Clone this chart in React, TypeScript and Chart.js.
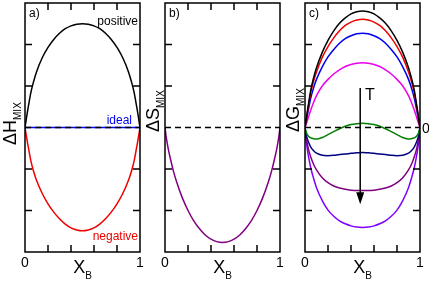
import React, { useEffect, useRef } from "react";
import { Chart, registerables } from "chart.js";

Chart.register(...registerables);

// ---------- data ----------
const XB = [0, 0.01, 0.02, 0.03, 0.05, 0.075, 0.1, 0.15, 0.2, 0.25, 0.3, 0.35, 0.4, 0.45, 0.5, 0.55, 0.6, 0.65, 0.7, 0.75, 0.8, 0.85, 0.9, 0.925, 0.95, 0.97, 0.98, 0.99, 1];
const LINE_X = [0, 1];
const ZERO_Y = [0, 0];

// panel a) enthalpy of mixing
const H_POSITIVE = [0, 0.18, 0.36, 0.52, 0.83, 1.11, 1.34, 1.68, 1.93, 2.12, 2.27, 2.38, 2.45, 2.49, 2.50, 2.49, 2.45, 2.38, 2.27, 2.12, 1.93, 1.68, 1.34, 1.11, 0.83, 0.52, 0.36, 0.18, 0];
const H_NEGATIVE = [0, -0.17, -0.34, -0.49, -0.79, -1.06, -1.27, -1.59, -1.84, -2.04, -2.20, -2.33, -2.42, -2.47, -2.49, -2.47, -2.42, -2.33, -2.20, -2.04, -1.84, -1.59, -1.27, -1.06, -0.79, -0.49, -0.34, -0.17, 0];
const H_IDEAL = [0, 0];

// panel b) entropy of mixing
const S_MIX = [0, -0.22, -0.39, -0.54, -0.79, -1.07, -1.30, -1.69, -2.00, -2.25, -2.44, -2.59, -2.69, -2.75, -2.77, -2.75, -2.69, -2.59, -2.44, -2.25, -2.00, -1.69, -1.30, -1.07, -0.79, -0.54, -0.39, -0.22, 0];

// panel c) Gibbs energy of mixing, increasing T
const G_T1 = [0, 0.19, 0.38, 0.56, 0.90, 1.20, 1.44, 1.81, 2.10, 2.33, 2.51, 2.64, 2.74, 2.79, 2.81, 2.79, 2.74, 2.64, 2.51, 2.33, 2.10, 1.81, 1.44, 1.20, 0.90, 0.56, 0.38, 0.19, 0];
const G_T2 = [0, 0.18, 0.35, 0.52, 0.84, 1.12, 1.34, 1.69, 1.95, 2.16, 2.33, 2.46, 2.54, 2.59, 2.61, 2.59, 2.54, 2.46, 2.33, 2.16, 1.95, 1.69, 1.34, 1.12, 0.84, 0.52, 0.35, 0.18, 0];
const G_T3 = [0, 0.15, 0.30, 0.44, 0.71, 0.96, 1.16, 1.46, 1.70, 1.88, 2.03, 2.14, 2.21, 2.26, 2.27, 2.26, 2.21, 2.14, 2.03, 1.88, 1.70, 1.46, 1.16, 0.96, 0.71, 0.44, 0.30, 0.15, 0];
const G_T4 = [0, 0.08, 0.16, 0.25, 0.42, 0.61, 0.77, 1.00, 1.16, 1.29, 1.39, 1.47, 1.52, 1.55, 1.56, 1.55, 1.52, 1.47, 1.39, 1.29, 1.16, 1.00, 0.77, 0.61, 0.42, 0.25, 0.16, 0.08, 0];
const G_T5 = [0, -0.11, -0.17, -0.21, -0.25, -0.27, -0.28, -0.24, -0.17, -0.10, -0.03, 0.03, 0.07, 0.09, 0.10, 0.09, 0.07, 0.03, -0.03, -0.10, -0.17, -0.24, -0.28, -0.27, -0.25, -0.21, -0.17, -0.11, 0];
const G_T6 = [0, -0.17, -0.27, -0.35, -0.47, -0.56, -0.62, -0.67, -0.68, -0.67, -0.65, -0.64, -0.62, -0.61, -0.60, -0.61, -0.62, -0.64, -0.65, -0.67, -0.68, -0.67, -0.62, -0.56, -0.47, -0.35, -0.27, -0.17, 0];
const G_T7 = [0, -0.24, -0.39, -0.52, -0.71, -0.89, -1.02, -1.21, -1.33, -1.41, -1.46, -1.49, -1.51, -1.52, -1.52, -1.52, -1.51, -1.49, -1.46, -1.41, -1.33, -1.21, -1.02, -0.89, -0.71, -0.52, -0.39, -0.24, 0];
const G_T8 = [0, -0.31, -0.52, -0.69, -0.97, -1.23, -1.45, -1.76, -1.99, -2.14, -2.25, -2.32, -2.37, -2.40, -2.41, -2.40, -2.37, -2.32, -2.25, -2.14, -1.99, -1.76, -1.45, -1.23, -0.97, -0.69, -0.52, -0.31, 0];

// axis ticks
const X_TICKS = [0.2, 0.4, 0.6, 0.8];
const Y_TICKS = [-2, -1, 1, 2];
const X_TICK_LABELS = ["0", "1"];
const Y_MIN = -3;
const Y_MAX = 3;

// T arrow (data units)
const ARROW_X = 0.48;
const ARROW_TOP = 0.95;
const ARROW_TIP = -1.85;

// ---------- layout ----------
const W = 429;
const HT = 281;
const FONT = "'Liberation Sans', Arial, Helvetica, sans-serif";

function pts(xs: number[], ys: number[]) {
  return xs.map((x, i) => ({ x, y: ys[i] }));
}

function curve(ys: number[], color: string) {
  return {
    data: pts(XB, ys),
    borderColor: color,
    borderWidth: 1.5,
    pointRadius: 0,
    fill: false,
    cubicInterpolationMode: "monotone" as const,
  };
}

function zeroDashed(color = "#000") {
  return {
    data: pts(LINE_X, ZERO_Y),
    borderColor: color,
    borderWidth: 1.5,
    borderDash: [6, 4],
    pointRadius: 0,
    fill: false,
  };
}

type Note = { text: string; x: number; y: number; color: string; size: number; align: CanvasTextAlign };

type Panel = {
  left: number;
  right: number;
  letter: string;
  yMain: string;
  ySub: string;
  labelBaseX: number;
  labelStartY: number;
  datasets: any[];
  notes: Note[];
  arrow?: boolean;
};

const PANELS: Panel[] = [
  {
    left: 25,
    right: 140,
    letter: "a)",
    yMain: "ΔH",
    ySub: "MIX",
    labelBaseX: 15.5,
    labelStartY: 145,
    datasets: [
      zeroDashed("#000"),
      { data: pts(LINE_X, H_IDEAL), borderColor: "#0000ff", borderWidth: 1.5, pointRadius: 0, fill: false },
      curve(H_POSITIVE, "#000000"),
      curve(H_NEGATIVE, "#ee0000"),
    ],
    notes: [
      { text: "positive", x: 138, y: 25, color: "#000", size: 12, align: "right" },
      { text: "ideal", x: 132, y: 123.5, color: "#0000ee", size: 12, align: "right" },
      { text: "negative", x: 138, y: 240, color: "#ee0000", size: 12, align: "right" },
    ],
  },
  {
    left: 165,
    right: 280,
    letter: "b)",
    yMain: "ΔS",
    ySub: "MIX",
    labelBaseX: 158.5,
    labelStartY: 132,
    datasets: [zeroDashed("#000"), curve(S_MIX, "#800080")],
    notes: [],
  },
  {
    left: 305,
    right: 420,
    letter: "c)",
    yMain: "ΔG",
    ySub: "MIX",
    labelBaseX: 298.5,
    labelStartY: 132,
    datasets: [
      zeroDashed("#000"),
      curve(G_T1, "#000000"),
      curve(G_T2, "#ee0000"),
      curve(G_T3, "#0000ee"),
      curve(G_T4, "#ee00ee"),
      curve(G_T5, "#008000"),
      curve(G_T6, "#000080"),
      curve(G_T7, "#800080"),
      curve(G_T8, "#8000ff"),
    ],
    notes: [
      { text: "T", x: 365, y: 100, color: "#000", size: 16, align: "left" },
      { text: "0", x: 422, y: 133, color: "#000", size: 14, align: "left" },
    ],
    arrow: true,
  },
];

function makeDecor(p: Panel) {
  return {
    id: "decor",
    afterDraw(chart: any) {
      const ctx: CanvasRenderingContext2D = chart.ctx;
      const { left, right, top, bottom } = chart.chartArea;
      const xs = chart.scales.x;
      const ys = chart.scales.y;
      ctx.save();
      ctx.strokeStyle = "#000";
      ctx.fillStyle = "#000";
      ctx.lineWidth = 1.5;
      ctx.setLineDash([]);
      ctx.strokeRect(left, top, right - left, bottom - top);
      const tl = 7;
      ctx.beginPath();
      for (const v of X_TICKS) {
        const px = xs.getPixelForValue(v);
        ctx.moveTo(px, bottom);
        ctx.lineTo(px, bottom - tl);
        ctx.moveTo(px, top);
        ctx.lineTo(px, top + tl);
      }
      for (const v of Y_TICKS) {
        const py = ys.getPixelForValue(v);
        ctx.moveTo(left, py);
        ctx.lineTo(left + tl, py);
        ctx.moveTo(right, py);
        ctx.lineTo(right - tl, py);
      }
      ctx.stroke();

      // arrow
      if (p.arrow) {
        const ax = xs.getPixelForValue(ARROW_X);
        const ay0 = ys.getPixelForValue(ARROW_TOP);
        const ay1 = ys.getPixelForValue(ARROW_TIP);
        ctx.beginPath();
        ctx.moveTo(ax, ay0);
        ctx.lineTo(ax, ay1 - 10);
        ctx.stroke();
        ctx.beginPath();
        ctx.moveTo(ax - 4, ay1 - 12);
        ctx.lineTo(ax + 4, ay1 - 12);
        ctx.lineTo(ax, ay1);
        ctx.closePath();
        ctx.fill();
      }

      // tick labels
      ctx.font = `14px ${FONT}`;
      ctx.textAlign = "center";
      ctx.textBaseline = "alphabetic";
      ctx.fillText(X_TICK_LABELS[0], xs.getPixelForValue(0), 267);
      ctx.fillText(X_TICK_LABELS[1], xs.getPixelForValue(1), 267);

      // x title X_B
      ctx.textAlign = "left";
      ctx.font = `18px ${FONT}`;
      const mainW = ctx.measureText("X").width;
      ctx.font = `10px ${FONT}`;
      const subW = ctx.measureText("B").width;
      const cx = (left + right) / 2;
      const sx = cx - (mainW + subW) / 2;
      ctx.font = `18px ${FONT}`;
      ctx.fillText("X", sx, 273);
      ctx.font = `10px ${FONT}`;
      ctx.fillText("B", sx + mainW, 278.5);

      // panel letter
      ctx.font = `12px ${FONT}`;
      ctx.fillText(p.letter, left + 4, 16.5);

      // y title rotated
      ctx.save();
      ctx.translate(p.labelBaseX, p.labelStartY);
      ctx.rotate(-Math.PI / 2);
      ctx.font = `18px ${FONT}`;
      ctx.fillText(p.yMain, 0, 0);
      const yw = ctx.measureText(p.yMain).width;
      ctx.font = `10px ${FONT}`;
      ctx.fillText(p.ySub, yw, 5.5);
      ctx.restore();

      // notes
      for (const n of p.notes) {
        ctx.font = `${n.size}px ${FONT}`;
        ctx.fillStyle = n.color;
        ctx.textAlign = n.align;
        ctx.fillText(n.text, n.x, n.y);
      }
      ctx.restore();
    },
  };
}

function PanelChart({ panel }: { panel: Panel }) {
  const ref = useRef<HTMLCanvasElement | null>(null);
  useEffect(() => {
    if (!ref.current) return;
    const chart = new Chart(ref.current, {
      type: "line",
      data: { datasets: panel.datasets },
      options: {
        responsive: false,
        animation: false,
        events: [],
        layout: {
          padding: { left: panel.left, right: W - panel.right, top: 3, bottom: HT - 252 },
        },
        scales: {
          x: { type: "linear", min: 0, max: 1, display: false },
          y: { type: "linear", min: Y_MIN, max: Y_MAX, display: false },
        },
        plugins: { legend: { display: false }, tooltip: { enabled: false }, title: { display: false } },
      },
      plugins: [makeDecor(panel)],
    } as any);
    return () => chart.destroy();
  }, [panel]);
  return (
    <canvas
      ref={ref}
      width={W}
      height={HT}
      style={{ position: "absolute", left: 0, top: 0, width: W, height: HT }}
    />
  );
}

export default function App() {
  return (
    <div style={{ position: "fixed", left: 0, top: 0, width: W, height: HT, background: "#fff", overflow: "hidden" }}>
      {PANELS.map((p, i) => (
        <PanelChart key={i} panel={p} />
      ))}
    </div>
  );
}
